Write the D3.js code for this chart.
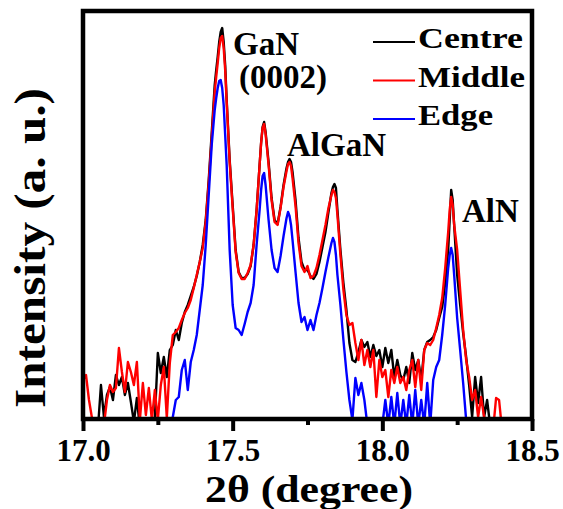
<!DOCTYPE html>
<html>
<head>
<meta charset="utf-8">
<script src="https://cdn.jsdelivr.net/npm/d3@7"></script>
<style>
  html, body { margin: 0; padding: 0; background: #fff; }
  svg { display: block; }
</style>
</head>
<body>
<svg id="chart" width="563" height="509"></svg>
<script>
// 2θ sampling positions (degree)
const twoTheta = [
  17.00, 17.01, 17.02, 17.03, 17.04, 17.05, 17.06, 17.07, 17.08, 17.09,
  17.10, 17.11, 17.12, 17.13, 17.14, 17.15, 17.16, 17.17, 17.18, 17.19,
  17.20, 17.21, 17.22, 17.23, 17.24, 17.25, 17.26, 17.27, 17.28, 17.29,
  17.30, 17.31, 17.32, 17.33, 17.34, 17.35, 17.36, 17.37, 17.38, 17.39,
  17.40, 17.41, 17.42, 17.43, 17.44,
  17.445, 17.45, 17.455, 17.46, 17.465, 17.47, 17.475,
  17.48, 17.49, 17.50, 17.51, 17.52, 17.53, 17.54, 17.55, 17.56, 17.57, 17.58, 17.59,
  17.595, 17.60, 17.605,
  17.61, 17.62, 17.63, 17.64, 17.65, 17.66, 17.67, 17.68,
  17.685, 17.69, 17.695,
  17.70, 17.71, 17.72, 17.73, 17.74, 17.75, 17.76, 17.77, 17.78, 17.79, 17.80, 17.81, 17.82, 17.83,
  17.835, 17.84, 17.845,
  17.85, 17.86, 17.87, 17.88, 17.89, 17.90, 17.91, 17.92, 17.93, 17.94, 17.95, 17.96, 17.97, 17.98, 17.99,
  18.00, 18.01, 18.02, 18.03, 18.04, 18.05, 18.06, 18.07, 18.08, 18.09,
  18.10, 18.11, 18.12, 18.13, 18.14, 18.15, 18.16, 18.17, 18.18, 18.19,
  18.20, 18.21, 18.22,
  18.225, 18.23, 18.235,
  18.24, 18.25, 18.26, 18.27, 18.28, 18.29, 18.30, 18.31, 18.32, 18.33, 18.34, 18.35, 18.36, 18.37, 18.38, 18.39, 18.40
];

// Intensity (a. u.) at each 2θ, one array per wafer position
const centre = [
  -110, -110, -110, -110, -110, -90, 340, 20, 240, 320,
  190, 440, 340, 420, 240, 360, 170, -30, 210, -90,
  -110, -110, -110, -60, 0, 660, 460, 620, 420, 690,
  740, 890, 790, 960, 1070, 1140, 1230, 1320, 1430, 1570,
  1740, 1990, 2390, 2860, 3340,
  3490, 3620, 3770, 3870, 3910, 3770, 3540,
  3190, 2590, 2140, 1690, 1470, 1410, 1410, 1450, 1530, 1740, 2090, 2540,
  2760, 2920, 2970,
  2870, 2570, 2210, 1990, 1950, 2120, 2340, 2510,
  2570, 2600, 2570,
  2470, 2190, 1810, 1570, 1490, 1490, 1430, 1400, 1450, 1570, 1720, 1870, 2070, 2260,
  2320, 2350, 2310,
  2090, 1690, 1360, 1090, 760, 590, 570, 670, 790, 720, 770, 620, 740, 630, 690,
  520, 710, 560, 690, 420, 590, 440, 390, 520, 360,
  660, 490, 590, 390, 690, 770, 790, 820, 890, 1010,
  1120, 1360, 1690,
  1990, 2290, 2190,
  1940, 1440, 1140, 860, 620, 340, 20, 420, 160, 420, 20, 190, -60, -110, -110, -110, -110
];

const middle = [
  390, 440, 190, 10, -110, -110, -110, -60, 190, 340,
  270, 310, 710, 470, 270, 570, 470, 340, 570, -10,
  360, 40, 310, -10, 290, -10, 340, 520, 10, 560,
  840, 870, 910, 990, 1060, 1110, 1190, 1310, 1440, 1570,
  1710, 1970, 2360, 2810, 3270,
  3420, 3560, 3710, 3810, 3830, 3710, 3490,
  3170, 2570, 2110, 1670, 1460, 1400, 1400, 1460, 1540, 1740, 2090, 2540,
  2760, 2910, 2950,
  2850, 2540, 2190, 1970, 1940, 2110, 2320, 2480,
  2550, 2570, 2530,
  2410, 2130, 1760, 1530, 1470, 1530, 1410, 1430, 1510, 1640, 1790, 1940, 2110, 2240,
  2290, 2270, 2210,
  2040, 1640, 1290, 1040, 940, 960, 760, 590, 790, 540, 690, 520, 690, 220, 590,
  420, 490, 220, 490, 360, 520, 360, 420, 290, 490,
  590, 320, 590, 290, 690, 760, 740, 790, 910, 1040,
  1210, 1510, 1870,
  2090, 2220, 2140,
  1940, 1690, 1290, 890, 590, 420, 190, 290, 20, 220, 20, -10, -60, -110, 210, 190, -110
];

const edge = [
  -110, -110, -110, -110, -110, -110, -110, -110, -110, -110,
  -110, -110, -110, -110, -110, -110, -110, -110, -110, -110,
  -110, -110, -110, -110, -110, -110, -110, -110, -110, -60,
  20, 190, 220, 490, 590, 290, 570, 690, 840, 1090,
  1340, 1740, 2240, 2740, 3090,
  3210, 3310, 3380, 3390, 3310, 3140, 2840,
  2540, 1690, 1140, 910, 890, 840, 950, 1070, 1160, 1340, 1740, 2090,
  2290, 2430, 2460,
  2340, 1990, 1690, 1510, 1470, 1630, 1830, 2010,
  2070, 2030, 1940,
  1790, 1470, 1160, 970, 1020, 890, 990, 890, 1040, 1160, 1310, 1470, 1620, 1760,
  1810, 1770, 1640,
  1440, 1140, 790, 470, 190, -10, 410, 240, 360, 190, -60, -110, -110, -110, -110,
  -60, 190, -60, 220, -60, 260, -60, 190, -60, 240,
  -60, 290, -60, 190, -60, 360, -60, 390, 520, 590,
  840, 1140, 1510,
  1640, 1710, 1640,
  1440, 1010, 690, 360, -10, -110, -110, -110, -110, -110, -110, -110, -110, -110, -110, -110, -110
];

const seriesNames = ["Centre", "Middle", "Edge"];
const seriesColors = ["#000000", "#ff0000", "#0000ff"];
const seriesValues = [centre, middle, edge];

const majorTicks = [17.0, 17.5, 18.0, 18.5];
const minorTicks = [17.25, 17.75, 18.25];

const peakLabels = [
  { lines: ["GaN", "(0002)"] },
  { lines: ["AlGaN"] },
  { lines: ["AlN"] }
];

const SERIF = "'Liberation Serif', 'Times New Roman', Times, serif";

// ---- layout ----
const svg = d3.select("#chart");
const plot = { left: 83, right: 532, top: 11, bottom: 419 };

const x = d3.scaleLinear().domain([17.0, 18.5]).range([plot.left, plot.right]);
const y = d3.scaleLinear().domain([0, 4080]).range([plot.bottom, plot.top]);

function label(sel) {
  return sel.attr("font-family", SERIF).attr("font-weight", "bold").attr("fill", "#000");
}

svg.append("defs").append("clipPath").attr("id", "plot-clip")
  .append("rect")
  .attr("x", plot.left).attr("y", plot.top)
  .attr("width", plot.right - plot.left).attr("height", plot.bottom - plot.top);

// ---- spectra ----
const line = d3.line()
  .x((d, i) => x(twoTheta[i]))
  .y(d => y(d));

const traces = svg.append("g").attr("clip-path", "url(#plot-clip)");
seriesValues.forEach((vals, k) => {
  traces.append("path")
    .datum(vals)
    .attr("d", line)
    .attr("fill", "none")
    .attr("stroke", seriesColors[k])
    .attr("stroke-width", 2.4)
    .attr("stroke-linejoin", "round");
});

// ---- frame ----
svg.append("rect")
  .attr("x", plot.left).attr("y", plot.top)
  .attr("width", plot.right - plot.left).attr("height", plot.bottom - plot.top)
  .attr("fill", "none").attr("stroke", "#000").attr("stroke-width", 4.5);

// ---- bottom axis ----
const axisMajor = d3.axisBottom(x)
  .tickValues(majorTicks)
  .tickFormat(d3.format(".1f"))
  .tickSize(12)
  .tickSizeOuter(0);
const gMajor = svg.append("g").attr("transform", `translate(0,${plot.bottom})`).call(axisMajor);
gMajor.attr("font-family", SERIF).attr("font-size", 31);
gMajor.select(".domain").remove();
gMajor.selectAll(".tick line").attr("stroke", "#000").attr("stroke-width", 4);
gMajor.selectAll(".tick text")
  .attr("y", 42).attr("dy", null)
  .attr("font-size", 31)
  .call(label);

const axisMinor = d3.axisBottom(x)
  .tickValues(minorTicks)
  .tickFormat("")
  .tickSize(6)
  .tickSizeOuter(0);
const gMinor = svg.append("g").attr("transform", `translate(0,${plot.bottom})`).call(axisMinor);
gMinor.select(".domain").remove();
gMinor.selectAll(".tick line").attr("stroke", "#000").attr("stroke-width", 4);

// ---- axis titles (set wide, as in the original figure) ----
svg.append("text")
  .attr("x", 309).attr("y", 502)
  .attr("text-anchor", "middle")
  .attr("font-size", 38)
  .attr("textLength", 208)
  .attr("lengthAdjust", "spacingAndGlyphs")
  .call(label)
  .text("2θ (degree)");

svg.append("text")
  .attr("transform", "translate(45,248) rotate(-90)")
  .attr("text-anchor", "middle")
  .attr("font-size", 45)
  .attr("textLength", 320)
  .attr("lengthAdjust", "spacingAndGlyphs")
  .call(label)
  .text("Intensity (a. u.)");

// ---- peak labels ----
const labelPos = [
  { x: 233, y: 55, dy: 33 },
  { x: 287, y: 156, dy: 0 },
  { x: 462, y: 222, dy: 0 }
];
peakLabels.forEach((lab, i) => {
  const p = labelPos[i];
  lab.lines.forEach((t, j) => {
    svg.append("text")
      .attr("x", p.x + (j === 1 ? 6 : 0))
      .attr("y", p.y + j * p.dy)
      .attr("font-size", 33)
      .call(label)
      .text(t);
  });
});

// ---- legend ----
const legendWidths = [105, 107, 75];
const legend = svg.append("g");
seriesNames.forEach((name, i) => {
  const ly = 42 + i * 38.5;
  legend.append("line")
    .attr("x1", 373).attr("x2", 415)
    .attr("y1", ly).attr("y2", ly)
    .attr("stroke", seriesColors[i]).attr("stroke-width", 2);
  legend.append("text")
    .attr("x", 418).attr("y", ly + 6)
    .attr("font-size", 29)
    .attr("textLength", legendWidths[i])
    .attr("lengthAdjust", "spacingAndGlyphs")
    .call(label)
    .text(name);
});
</script>
</body>
</html>
